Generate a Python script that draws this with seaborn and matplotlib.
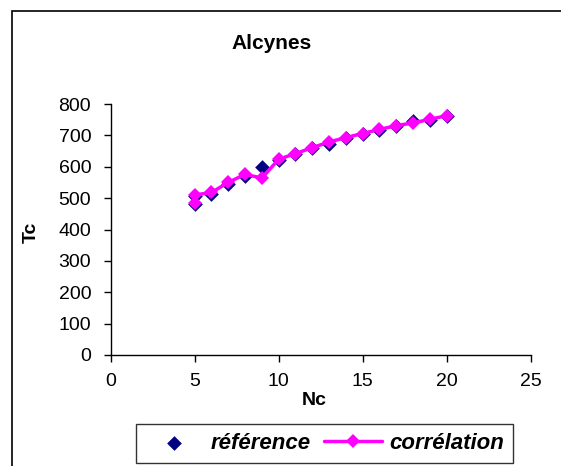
import matplotlib
matplotlib.use("Agg")
import matplotlib.pyplot as plt
from matplotlib.patches import Rectangle
import seaborn as sns
import pandas as pd

# Number of carbon atoms (two C5 isomers)
nc = [5, 5, 6, 7, 8, 9, 10, 11, 12, 13, 14, 15, 16, 17, 18, 19, 20]
# Critical temperature, reference values (K)
tc_reference = [481, 508, 512, 545, 570, 600, 622, 641, 660, 673, 692, 705, 717, 729, 747, 750, 762]
# Critical temperature from the correlation (K)
tc_correlation = [483, 510, 518, 550, 576, 564, 624, 642, 661, 679, 693, 706, 719, 731, 740, 751, 763]

x_ticks = [0, 5, 10, 15, 20, 25]
y_ticks = [0, 100, 200, 300, 400, 500, 600, 700, 800]

df = pd.DataFrame({"Nc": nc, "ref": tc_reference, "corr": tc_correlation})

sns.set_style("white")
plt.rcParams["font.family"] = ["Liberation Sans", "DejaVu Sans"]
plt.rcParams["text.color"] = "black"
plt.rcParams["xtick.color"] = "black"
plt.rcParams["ytick.color"] = "black"
plt.rcParams["axes.labelcolor"] = "black"

fig = plt.figure(figsize=(5.61, 4.66), dpi=100)
ax = fig.add_axes([0.1973, 0.2382, 0.7487, 0.5386])

sns.scatterplot(data=df, x="Nc", y="ref", ax=ax, marker="D", s=56,
                color="#000080", linewidth=0, label="référence", zorder=3)
sns.lineplot(data=df, x="Nc", y="corr", ax=ax, estimator=None, sort=False,
             color="#FF00FF", linewidth=2.5, marker="D", markersize=7.6,
             markeredgewidth=0, label="corrélation", zorder=4)

ax.set_xlim(0, 25)
ax.set_ylim(0, 800)
ax.set_xticks(x_ticks)
ax.set_yticks(y_ticks)
ax.tick_params(axis="both", direction="out", length=5, width=1, color="black",
               labelcolor="black", labelsize=14, left=True, bottom=True)
ax.tick_params(axis="x", pad=8)
ax.tick_params(axis="y", pad=9)
for side in ("top", "right"):
    ax.spines[side].set_visible(False)
for side in ("left", "bottom"):
    ax.spines[side].set_color("black")
    ax.spines[side].set_linewidth(1)
ax.set_xlabel("")
ax.set_ylabel("")

fig.text(0.485, 0.906, "Alcynes", ha="center", va="center", fontsize=15, fontweight="bold")
fig.text(0.055, 0.502, "Tc", ha="center", va="center", rotation=90, fontsize=14, fontweight="bold")
fig.text(0.561, 0.141, "Nc", ha="center", va="center", fontsize=14, fontweight="bold")

ax.get_legend().remove()
handles, labels = ax.get_legend_handles_labels()
leg = fig.legend(handles, labels, ncol=2, loc="center",
                 bbox_to_anchor=(0.5785, 0.048),
                 prop={"weight": "bold", "style": "italic", "size": 16},
                 frameon=True, fancybox=False, edgecolor="black",
                 handlelength=2.6, handletextpad=0.35, columnspacing=0.6,
                 borderpad=0.4, borderaxespad=0)
leg.get_frame().set_linewidth(1)

# Outer chart-area border
fig.patches.append(Rectangle((12 / 561, -0.5), 1.5, 0.976 + 0.5,
                             transform=fig.transFigure, fill=False,
                             edgecolor="black", linewidth=1.2))

fig.savefig("out.png", dpi=100)
